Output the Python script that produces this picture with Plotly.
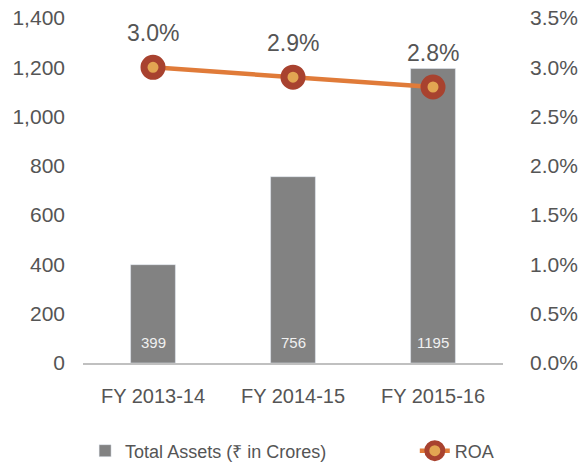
import plotly.graph_objects as go

years = ['FY 2013-14', 'FY 2014-15', 'FY 2015-16']
total_assets = [399, 756, 1195]
roa = [3.0, 2.9, 2.8]

fnt = 'Liberation Sans'
txtcol = '#555555'

fig = go.Figure()
fig.add_trace(go.Bar(x=years, y=total_assets, name='Total Assets (₹ in Crores)',
                     marker={'color': '#828282'}, width=0.32,
                     legend='legend'))
fig.add_trace(go.Scatter(x=years, y=roa, name='ROA', yaxis='y2', mode='lines+markers',
                         line={'color': '#E07B39', 'width': 4.5},
                         marker={'color': '#E2A552', 'size': 18, 'line': {'color': '#A8422F', 'width': 7}},
                         legend='legend2'))

# asset values written near the foot of each bar
for xv, v in zip(years, total_assets):
    fig.add_annotation(x=xv, y=0, text=str(v), showarrow=False, yanchor='middle',
                       yshift=21, font={'size': 15, 'color': '#f0f0f0', 'family': fnt})

# value labels above the ROA points
for xv, yv in zip(years, roa):
    fig.add_annotation(x=xv, y=yv, yref='y2', text='%.1f%%' % yv, showarrow=False,
                       yshift=34, font={'size': 23, 'color': txtcol, 'family': fnt})

fig.update_layout(
    width=582, height=465,
    margin=dict(l=83, r=79, t=18, b=102, autoexpand=False),
    paper_bgcolor='white', plot_bgcolor='white',
    font={'family': fnt, 'color': txtcol},
    xaxis=dict(showgrid=False, showline=True, linecolor='#c0c0c0', linewidth=2,
               tickfont={'size': 20, 'color': txtcol}, ticks='', ticklabelstandoff=14),
    yaxis=dict(range=[0, 1400], dtick=200, showgrid=False, tickformat=',',
               tickfont={'size': 21, 'color': txtcol}, zeroline=False, ticklabelstandoff=17,
               ticklabeloverflow='allow'),
    yaxis2=dict(range=[0, 3.5], dtick=0.5, overlaying='y', side='right', showgrid=False,
                tickformat='.1f', ticksuffix='%', zeroline=False,
                tickfont={'size': 21, 'color': txtcol}, ticklabelstandoff=26,
                ticklabeloverflow='allow'),
    legend=dict(orientation='h', x=0.005, xanchor='left', y=-0.255, yanchor='middle',
                font={'size': 18, 'color': txtcol}, bgcolor='rgba(0,0,0,0)'),
    legend2=dict(orientation='h', x=0.79, xanchor='left', y=-0.255, yanchor='middle',
                 font={'size': 18, 'color': txtcol}, bgcolor='rgba(0,0,0,0)'),
    showlegend=True,
)

# drop the default page margin so the figure sits at the window's corner
fig.write_html('out.html', config={'displayModeBar': False},
               post_script="document.body.style.margin='0';document.body.style.overflow='hidden';")
